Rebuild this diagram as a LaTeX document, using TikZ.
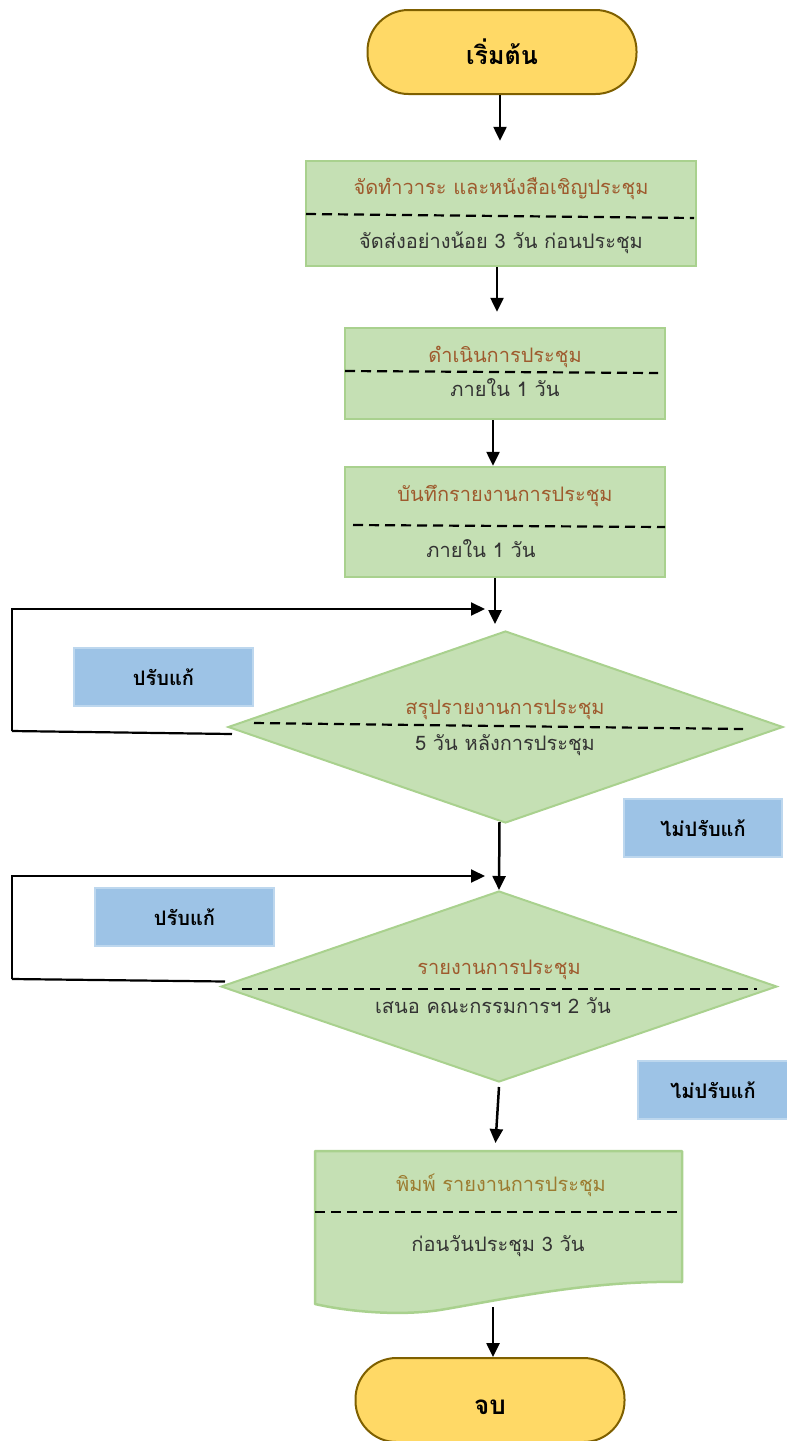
\documentclass[tikz,border=0pt]{standalone}
\usepackage{fontspec}
\setmainfont[Script=Thai]{Loma}
\usepackage{xcolor}
\usetikzlibrary{positioning,calc,shapes.geometric,arrows.meta}

\definecolor{boxgreen}{HTML}{C5E0B4}
\definecolor{boxedge}{HTML}{A9D18E}
\definecolor{termfill}{HTML}{FFD966}
\definecolor{termedge}{HTML}{7F6000}
\definecolor{tagblue}{HTML}{9DC3E6}
\definecolor{tagedge}{HTML}{BDD7EE}
\definecolor{titlebrown}{HTML}{9E5A2D}
\definecolor{docolive}{HTML}{9C7B30}
\definecolor{bodygray}{HTML}{333333}

\tikzset{
  termbox/.style={draw=termedge, fill=termfill, line width=2pt, rounded corners=41pt,
    minimum width=269, minimum height=84, inner sep=0pt, font=\fontsize{25}{30}\selectfont\bfseries},
  stepbox/.style={draw=boxedge, fill=boxgreen, line width=2.5pt, inner sep=0pt},
  decbox/.style={diamond, draw=boxedge, fill=boxgreen, line width=2pt, inner sep=0pt},
  tagbox/.style={draw=tagedge, fill=tagblue, line width=2pt, minimum width=179, minimum height=58,
    inner sep=0pt, font=\fontsize{20}{24}\selectfont\bfseries},
  titletext/.style={text=titlebrown, inner sep=0pt, font=\fontsize{20}{24}\selectfont},
  bodytext/.style={text=bodygray, inner sep=0pt, font=\fontsize{20}{24}\selectfont},
  cutline/.style={dashed, dash pattern=on 10pt off 6pt, line width=2.2pt},
  flow/.style={-{Triangle[length=14pt,width=13pt]}, line width=2.5pt},
}

\begin{document}
\begin{tikzpicture}[x=1pt, y=-1pt]
  \useasboundingbox (0,0) rectangle (787,1441);

  % start
  \node[termbox] (start) at (502,52) {เริ่มต้น};

  % agenda and invitation
  \node[stepbox, minimum width=390, minimum height=105] (agenda) at (501,213.5) {};
  \node[titletext] (agenda-t) at (501,189) {จัดทำวาระ และหนังสือเชิญประชุม};
  \node[bodytext] (agenda-b) at (501,243) {จัดส่งอย่างน้อย 3 วัน ก่อนประชุม};
  \draw[cutline] (306,214) -- (694,218);

  % hold meeting
  \node[stepbox, minimum width=320, minimum height=91] (hold) at (505,373.5) {};
  \node[titletext] (hold-t) at (505,357) {ดำเนินการประชุม};
  \node[bodytext] (hold-b) at (505,388) {ภายใน 1 วัน};
  \draw[cutline] (345,371) -- (658,373);

  % record minutes
  \node[stepbox, minimum width=320, minimum height=110] (record) at (505,522) {};
  \node[titletext] (record-t) at (505,496) {บันทึกรายงานการประชุม};
  \node[bodytext] (record-b) at (481,549) {ภายใน 1 วัน};
  \draw[cutline] (353,525) -- (665,527);

  % summary decision
  \node[decbox, minimum width=555, minimum height=192] (summary) at (505.5,727) {};
  \node[titletext] (summary-t) at (505,710) {สรุปรายงานการประชุม};
  \node[bodytext] (summary-b) at (505,745) {5 วัน หลังการประชุม};
  \draw[cutline] (254,723) -- (743,729);
  \node[tagbox] (fix1) at (163.5,677) {ปรับแก้};
  \node[tagbox, minimum width=158] (ok1) at (703,828) {ไม่ปรับแก้};

  % report decision
  \node[decbox, minimum width=556, minimum height=191] (report) at (499,986.5) {};
  \node[titletext] (report-t) at (499,970) {รายงานการประชุม};
  \node[bodytext] (report-b) at (493,1006) {เสนอ คณะกรรมการฯ 2 วัน};
  \draw[cutline] (242,989) -- (757,989);
  \node[tagbox] (fix2) at (184.5,917) {ปรับแก้};
  \node[tagbox, minimum width=150] (ok2) at (713,1090) {ไม่ปรับแก้};

  % print minutes (document)
  \fill[boxgreen] (315,1151) -- (682,1151) -- (682,1282)
    .. controls (590,1280) and (500,1300) .. (440,1310)
    .. controls (400,1316) and (350,1312) .. (315,1304) -- cycle;
  \draw[boxedge, line width=2.5pt, line join=round] (315,1151) -- (682,1151) -- (682,1282)
    .. controls (590,1280) and (500,1300) .. (440,1310)
    .. controls (400,1316) and (350,1312) .. (315,1304) -- cycle;
  \coordinate (print-n) at (495,1151);
  \coordinate (print-s) at (493,1307);
  \node[text=docolive, inner sep=0pt, font=\fontsize{20}{24}\selectfont] (print-t) at (501,1185) {พิมพ์ รายงานการประชุม};
  \node[bodytext] (print-b) at (498,1246) {ก่อนวันประชุม 3 วัน};
  \draw[cutline] (315,1212) -- (682,1212);

  % end
  \node[termbox] (stop) at (490,1400) {};
  \node[inner sep=0pt, font=\fontsize{26}{30}\selectfont\bfseries] (stop-t) at (490,1407) {จบ};

  % connectors
  \draw[flow, shorten >=19pt] ([xshift=-2pt]start.south) -- ([xshift=-2pt]start.south |- agenda.north);
  \draw[flow, shorten >=15pt] ([xshift=-4pt]agenda.south) -- ([xshift=-4pt]agenda.south |- hold.north);
  \draw[flow] ([xshift=-12pt]hold.south) -- ([xshift=-12pt]hold.south |- record.north);
  \draw[flow, shorten >=6pt] ([xshift=-10pt]record.south) -- ([xshift=-10pt]record.south |- summary.north);
  \draw[flow] ([xshift=-6pt,yshift=2pt]summary.south) -- (report.north);
  \draw[flow, shorten >=8pt] ([yshift=-4pt]report.south) -- (print-n);
  \draw[flow] (print-s) -- (print-s |- stop.north);

  % loops back
  \coordinate (loop1) at (12,731);
  \coordinate (back1) at (485,609);
  \draw[line width=2.2pt] ([xshift=5pt,yshift=-7pt]summary.west) -- (loop1);
  \draw[flow, line width=2.2pt] (loop1) |- (back1);
  \coordinate (loop2) at (12,979);
  \coordinate (back2) at (485,876);
  \draw[line width=2.2pt] ([xshift=5pt,yshift=5pt]report.west) -- (loop2);
  \draw[flow, line width=2.2pt] (loop2) |- (back2);
\end{tikzpicture}
\end{document}
